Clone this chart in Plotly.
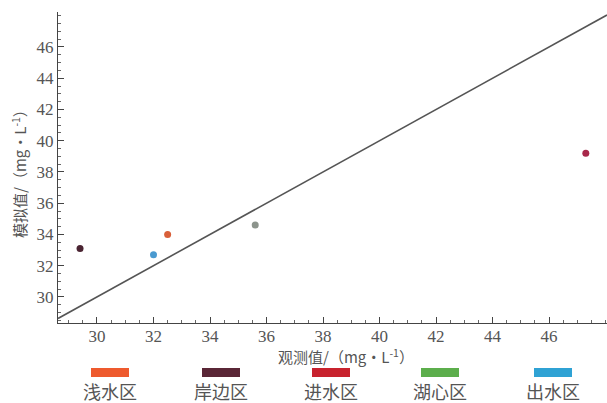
import plotly.graph_objects as go

# Sampling zones, their observed and simulated values (mg/L)
zones = ["浅水区", "岸边区", "进水区", "湖心区", "出水区"]
observed = [32.5, 29.4, 47.3, 35.6, 32.0]
simulated = [34.0, 33.1, 39.2, 34.6, 32.7]
zone_colors = ["#ee5a2e", "#5a2636", "#c8222e", "#5cae4c", "#2fa2d4"]
point_colors = ["#d9603a", "#4a2432", "#a8284a", "#8c948c", "#4a9ad0"]

x_ticks = [30, 32, 34, 36, 38, 40, 42, 44, 46]
y_ticks = [30, 32, 34, 36, 38, 40, 42, 44, 46]
x_range = [28.62, 48.05]
y_range = [28.33, 48.24]

W, H = 607, 403
M_L, M_R, M_T, M_B = 58, 0, 12, 80
plot_w = W - M_L - M_R
plot_h = H - M_T - M_B

serif = "Times New Roman, Liberation Serif, DejaVu Serif, serif"
cjk = "Noto Sans CJK SC"

fig = go.Figure()

# 1:1 reference line
fig.add_trace(go.Scatter(
    x=x_range, y=x_range, mode="lines",
    line=dict(color="#555555", width=1.6),
    showlegend=False, hoverinfo="skip", cliponaxis=True,
))

for name, ox, sy, pc in zip(zones, observed, simulated, point_colors):
    fig.add_trace(go.Scatter(
        x=[ox], y=[sy], mode="markers", name=name,
        marker=dict(color=pc, size=7, line=dict(width=0)),
        showlegend=False,
    ))

axis_common = dict(
    showline=True, linecolor="#444444", linewidth=1.3,
    ticks="inside", ticklen=6, tickwidth=1.1, tickcolor="#444444",
    showgrid=False, zeroline=False,
    minor=dict(ticks="inside", ticklen=3, tickcolor="#666666", dtick=0.5, showgrid=False),
)

fig.update_xaxes(range=x_range, tickvals=x_ticks, ticklabelstandoff=-3,
                 tickfont=dict(family=serif, size=17, color="#555555"), **axis_common)
fig.update_yaxes(range=y_range, tickvals=y_ticks, ticklabelstandoff=0,
                 tickfont=dict(family=serif, size=17, color="#555555"), **axis_common)

def px_x(px):
    return (px - M_L) / plot_w

def px_y(py):
    return (H - M_B - py) / plot_h

annotations = [
    dict(text="观测值/（mg·L<sup>-1</sup>）", x=px_x(346), y=px_y(356),
         xref="paper", yref="paper", showarrow=False,
         xanchor="center", yanchor="middle",
         font=dict(family=cjk, size=15, color="#555555")),
    dict(text="模拟值/（mg·L<sup>-1</sup>）", x=px_x(19), y=px_y(170),
         xref="paper", yref="paper", showarrow=False, textangle=-90,
         xanchor="center", yanchor="middle",
         font=dict(family=cjk, size=15, color="#555555")),
]

# Legend drawn as colored swatches above zone names
shapes = []
legend_centers = [110, 221, 331, 440, 553]
for name, col, cx in zip(zones, zone_colors, legend_centers):
    shapes.append(dict(
        type="rect", xref="paper", yref="paper",
        x0=px_x(cx - 19), x1=px_x(cx + 19),
        y0=px_y(377), y1=px_y(368),
        fillcolor=col, line=dict(width=0),
    ))
    annotations.append(dict(
        text=name, x=px_x(cx), y=px_y(391),
        xref="paper", yref="paper", showarrow=False,
        xanchor="center", yanchor="middle",
        font=dict(family=cjk, size=18, color="#555555"),
    ))

fig.update_layout(
    width=W, height=H,
    margin=dict(l=M_L, r=M_R, t=M_T, b=M_B),
    paper_bgcolor="white", plot_bgcolor="white",
    font=dict(family=serif),
    annotations=annotations, shapes=shapes,
    showlegend=False,
)

fig.write_html("out.html")
